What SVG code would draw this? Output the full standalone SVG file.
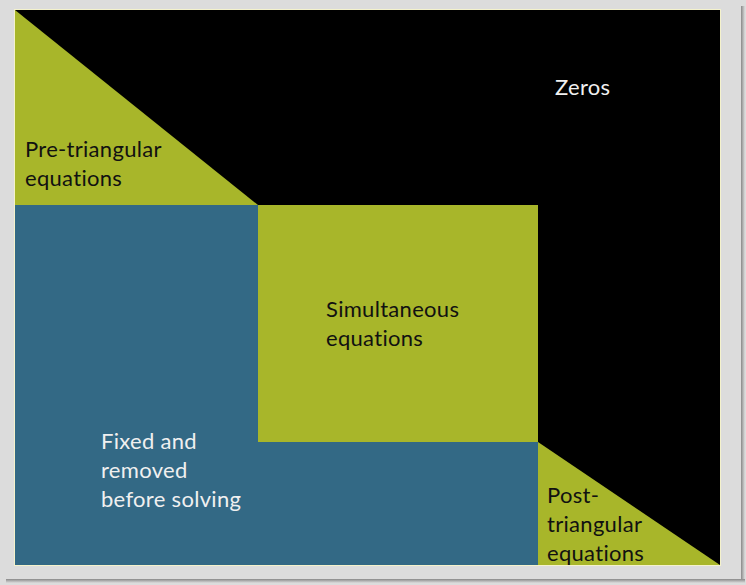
<svg xmlns="http://www.w3.org/2000/svg" width="746" height="585" viewBox="0 0 746 585">
<style>
.lbl{font-family:Lato,"Open Sans","Liberation Sans",sans-serif;font-size:22px;letter-spacing:0.3px}
.dark{fill:#111111}
.light{fill:#f0f0f0}
.green{fill:#a8b62a}
.blue{fill:#336985}
</style>
<defs>
<linearGradient id="shR" x1="0" x2="1" y1="0" y2="0"><stop offset="0" stop-color="#888"/><stop offset="1" stop-color="#dcdcdc"/></linearGradient>
<linearGradient id="shB" x1="0" x2="0" y1="0" y2="1"><stop offset="0" stop-color="#888"/><stop offset="1" stop-color="#dcdcdc"/></linearGradient>
</defs>
<rect x="0" y="0" width="746" height="585" fill="#dcdcdc"/>
<rect x="741" y="6" width="4" height="576" fill="url(#shR)"/>
<rect x="6" y="579" width="739" height="4" fill="url(#shB)"/>
<rect x="14.5" y="9.5" width="706" height="556" fill="#000" stroke="#f4f2cc" stroke-width="1"/>
<g id="zeros">
<text class="lbl light" x="555" y="95">Zeros</text>
</g>
<g id="pre-triangular">
<polygon class="green" points="15,10 258,205 15,205"/>
<text class="lbl dark" x="25" y="157">Pre-triangular</text>
<text class="lbl dark" x="25" y="186">equations</text>
</g>
<g id="fixed">
<polygon class="blue" points="15,205 258,205 258,442 538,442 538,565 15,565"/>
<text class="lbl light" x="101" y="449">Fixed and</text>
<text class="lbl light" x="101" y="478">removed</text>
<text class="lbl light" x="101" y="507">before solving</text>
</g>
<g id="simultaneous">
<rect class="green" x="258" y="205" width="280" height="237"/>
<text class="lbl dark" x="326" y="317">Simultaneous</text>
<text class="lbl dark" x="326" y="346">equations</text>
</g>
<g id="post-triangular">
<polygon class="green" points="538,442 720,565 538,565"/>
<text class="lbl dark" x="547" y="503">Post-</text>
<text class="lbl dark" x="547" y="532">triangular</text>
<text class="lbl dark" x="547" y="561">equations</text>
</g>
<g id="connectors"></g>
</svg>
